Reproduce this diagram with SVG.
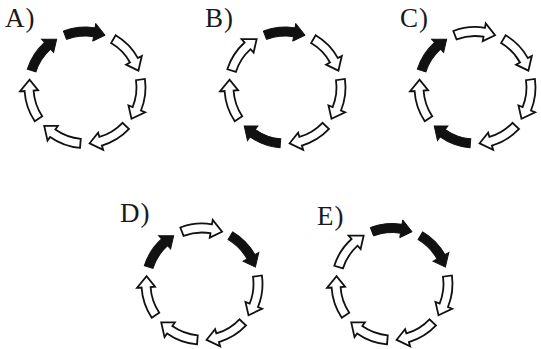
<svg xmlns="http://www.w3.org/2000/svg" xmlns:xlink="http://www.w3.org/1999/xlink" width="541" height="349" viewBox="0 0 541 349">
<style>
.lbl{font-family:"Liberation Serif","Times New Roman",serif;font-size:27px;fill:#1a1a1a;letter-spacing:1px}
.w{fill:#fff;stroke:#111;stroke-width:1.8;stroke-linejoin:miter}
.b{fill:#111;stroke:#111;stroke-width:1;stroke-linejoin:miter}
</style>
<defs>
<path id="arr" d="M -21.681,-56.482 A 60.5 60.5 0 0 1 9.986,-59.671 L 10.728,-64.109 L 20.069,-52.280 L 7.757,-46.356 L 8.500,-50.794 A 51.5 51.5 0 0 0 -18.456,-48.079 Z"/>
</defs>
<rect width="541" height="349" fill="#fff"/>
<g id="A">
<text class="lbl" x="5" y="27">A)</text>
<g transform="translate(85,87.5)">
<use xlink:href="#arr" class="b" transform="rotate(0)"/>
<use xlink:href="#arr" class="w" transform="rotate(51.4286)"/>
<use xlink:href="#arr" class="w" transform="rotate(102.857)"/>
<use xlink:href="#arr" class="w" transform="rotate(154.286)"/>
<use xlink:href="#arr" class="w" transform="rotate(205.714)"/>
<use xlink:href="#arr" class="w" transform="rotate(257.143)"/>
<use xlink:href="#arr" class="b" transform="rotate(308.571)"/>
</g>
</g>
<g id="B">
<text class="lbl" x="205" y="27">B)</text>
<g transform="translate(285,87.5)">
<use xlink:href="#arr" class="b" transform="rotate(0)"/>
<use xlink:href="#arr" class="w" transform="rotate(51.4286)"/>
<use xlink:href="#arr" class="w" transform="rotate(102.857)"/>
<use xlink:href="#arr" class="w" transform="rotate(154.286)"/>
<use xlink:href="#arr" class="b" transform="rotate(205.714)"/>
<use xlink:href="#arr" class="w" transform="rotate(257.143)"/>
<use xlink:href="#arr" class="w" transform="rotate(308.571)"/>
</g>
</g>
<g id="C">
<text class="lbl" x="400" y="27">C)</text>
<g transform="translate(475,87.5)">
<use xlink:href="#arr" class="w" transform="rotate(0)"/>
<use xlink:href="#arr" class="w" transform="rotate(51.4286)"/>
<use xlink:href="#arr" class="w" transform="rotate(102.857)"/>
<use xlink:href="#arr" class="w" transform="rotate(154.286)"/>
<use xlink:href="#arr" class="b" transform="rotate(205.714)"/>
<use xlink:href="#arr" class="w" transform="rotate(257.143)"/>
<use xlink:href="#arr" class="b" transform="rotate(308.571)"/>
</g>
</g>
<g id="D">
<text class="lbl" x="120" y="222">D)</text>
<g transform="translate(202,284)">
<use xlink:href="#arr" class="w" transform="rotate(0)"/>
<use xlink:href="#arr" class="b" transform="rotate(51.4286)"/>
<use xlink:href="#arr" class="w" transform="rotate(102.857)"/>
<use xlink:href="#arr" class="w" transform="rotate(154.286)"/>
<use xlink:href="#arr" class="w" transform="rotate(205.714)"/>
<use xlink:href="#arr" class="w" transform="rotate(257.143)"/>
<use xlink:href="#arr" class="b" transform="rotate(308.571)"/>
</g>
</g>
<g id="E">
<text class="lbl" x="317" y="225">E)</text>
<g transform="translate(392,284)">
<use xlink:href="#arr" class="b" transform="rotate(0)"/>
<use xlink:href="#arr" class="b" transform="rotate(51.4286)"/>
<use xlink:href="#arr" class="w" transform="rotate(102.857)"/>
<use xlink:href="#arr" class="w" transform="rotate(154.286)"/>
<use xlink:href="#arr" class="w" transform="rotate(205.714)"/>
<use xlink:href="#arr" class="w" transform="rotate(257.143)"/>
<use xlink:href="#arr" class="w" transform="rotate(308.571)"/>
</g>
</g>
<g id="connectors"></g>
</svg>
